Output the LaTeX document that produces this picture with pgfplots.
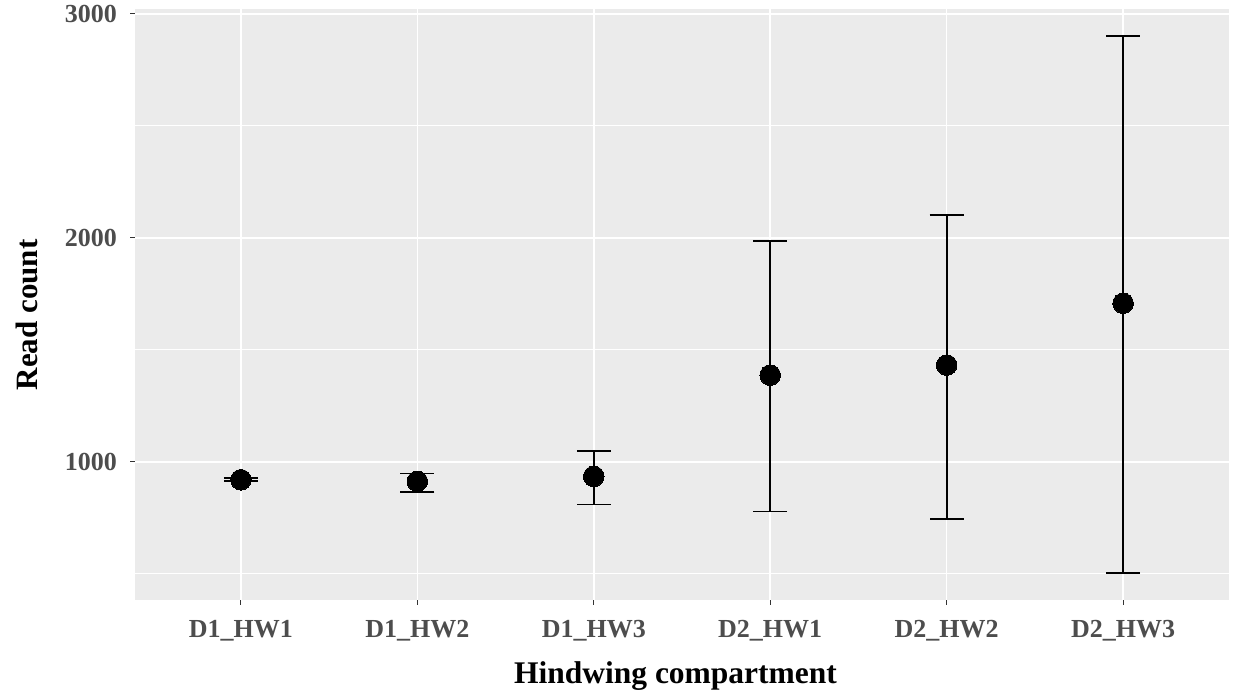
\documentclass[border=0pt]{standalone}
\usepackage{fontspec}
\setmainfont{Liberation Serif}
\usepackage{pgfplots}
\pgfplotsset{compat=1.18}
\usepackage{pgfplotstable}
\definecolor{panel}{HTML}{EBEBEB}
\definecolor{ticklab}{HTML}{4D4D4D}
\definecolor{tickcol}{HTML}{333333}

\pgfplotstableread{
x y ep em
1 920 6 6
2 913 35 49
3 935 112 126
4 1387 598 609
5 1432 670 686
6 1708 1194 1205
}\datatable

\begin{document}
\begin{tikzpicture}
\path[use as bounding box] (0,0) rectangle (1233bp,696bp);
\begin{axis}[
  at={(135bp,96bp)}, anchor=south west,
  scale only axis, width=1094bp, height=591bp,
  xmin=0.4, xmax=6.6, ymin=383, ymax=3022,
  axis background/.style={fill=panel},
  axis line style={draw=none},
  xtick={1,2,3,4,5,6},
  xticklabels={D1\_HW1,D1\_HW2,D1\_HW3,D2\_HW1,D2\_HW2,D2\_HW3},
  ytick={1000,2000,3000},
  minor ytick={500,1500,2500},
  grid=both,
  major grid style={white, line width=1.5bp},
  minor grid style={white, line width=1.1bp},
  tick style={tickcol, line width=1bp},
  major tick length=5bp, minor tick length=0pt,
  tick align=outside,
  xtick pos=left, ytick pos=left,
  ticklabel style={font=\fontsize{26bp}{30bp}\selectfont\bfseries, text=ticklab, inner sep=0pt},
  xticklabel style={anchor=north, yshift=-15bp},
  yticklabel style={anchor=east, xshift=-13bp},
  /pgf/number format/assume math mode=true,
  /pgf/number format/set thousands separator={},
]
\addplot[only marks, black, mark=*, mark size=10.3bp, mark options={line width=0pt},
  error bars/.cd, y dir=both, y explicit,
  error bar style={line width=1.8bp, black},
  error mark options={line width=1.8bp, mark size=17bp, black, rotate=90}]
  table[x=x, y=y, y error plus=ep, y error minus=em] {\datatable};
\end{axis}
\node[rotate=90, anchor=base, font=\fontsize{31bp}{36bp}\selectfont\bfseries] at (37bp,381bp) {Read count};
\node[anchor=base, font=\fontsize{31.5bp}{36bp}\selectfont\bfseries] at (675.5bp,12.7bp) {Hindwing compartment};
\end{tikzpicture}
\end{document}
